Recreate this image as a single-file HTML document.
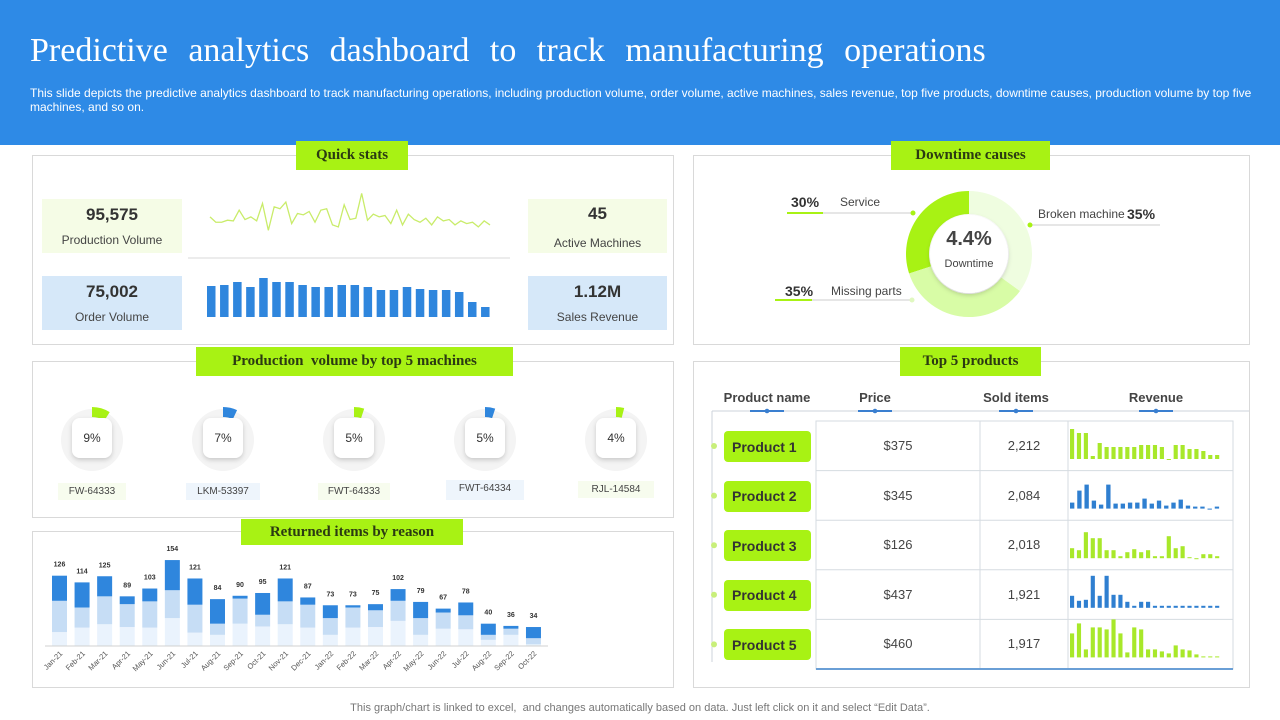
<!DOCTYPE html>
<html><head><meta charset="utf-8">
<style>
*{margin:0;padding:0;box-sizing:border-box}
body{width:1280px;height:720px;background:#fff;font-family:"Liberation Sans",sans-serif;position:relative;overflow:hidden;color:#333}
.abs{position:absolute}
.header{left:0;top:0;width:1280px;height:145px;background:#2e8ae6}
.title{left:30px;top:32px;font-family:"Liberation Serif",serif;font-size:34px;color:#fff;white-space:nowrap;word-spacing:12px}
.sub{left:30px;top:86px;font-size:12px;color:#fff;line-height:14px;white-space:nowrap}
.panel{border:1px solid #d9d9d9;background:#fff}
.tab{background:#a8f214;font-family:"Liberation Serif",serif;font-weight:bold;font-size:15px;color:#2b3a12;text-align:center;display:flex;align-items:center;justify-content:center}
.stat{text-align:center}
.stat b{display:block;font-size:17px;color:#333;margin-top:6px}
.stat span{display:block;font-size:12px;color:#444;margin-top:8px}
.mlabel{font-size:10px;color:#444;text-align:center;line-height:17px}
.btn{background:#a8f214;border-radius:4px;font-weight:bold;font-size:14px;color:#333;display:flex;align-items:center;padding-left:8px}
.hdr{font-size:13px;font-weight:bold;color:#444;text-align:center}
.cell{font-size:13px;color:#444;text-align:center}
</style></head><body>
<div class="abs header"></div>
<div class="abs title">Predictive analytics dashboard to track manufacturing operations</div>
<div class="abs sub">This slide depicts the predictive analytics dashboard to track manufacturing operations, including production volume, order volume, active machines, sales revenue, top five products, downtime causes, production volume by top five<br>machines, and so on.</div>

<div class="abs panel" style="left:32px;top:155px;width:642px;height:190px"></div>
<div class="abs panel" style="left:693px;top:155px;width:557px;height:190px"></div>
<div class="abs panel" style="left:32px;top:361px;width:642px;height:157px"></div>
<div class="abs panel" style="left:693px;top:361px;width:557px;height:327px"></div>
<div class="abs panel" style="left:32px;top:531px;width:642px;height:157px"></div>

<div class="abs tab" style="left:296px;top:141px;width:112px;height:29px">Quick stats</div>
<div class="abs tab" style="left:891px;top:141px;width:159px;height:29px">Downtime causes</div>
<div class="abs tab" style="left:196px;top:347px;width:317px;height:29px">Production &nbsp;volume by top 5 machines</div>
<div class="abs tab" style="left:900px;top:347px;width:141px;height:29px">Top 5 products</div>
<div class="abs tab" style="left:241px;top:519px;width:222px;height:26px">Returned items by reason</div>

<div class="abs stat" style="left:42px;top:199px;width:140px;height:54px;background:#f5fce6"><b>95,575</b><span>Production Volume</span></div>
<div class="abs stat" style="left:42px;top:276px;width:140px;height:54px;background:#d6e8f9"><b>75,002</b><span>Order Volume</span></div>
<div class="abs stat" style="left:528px;top:199px;width:139px;height:54px;background:#f5fce6"><b style="margin-top:5px">45</b><span style="margin-top:12px">Active Machines</span></div>
<div class="abs stat" style="left:528px;top:276px;width:139px;height:54px;background:#d6e8f9"><b>1.12M</b><span>Sales Revenue</span></div>

<svg class="abs" id="chart" style="left:0;top:0" width="1280" height="720">
<defs><filter id="sh" x="-50%" y="-50%" width="200%" height="200%"><feDropShadow dx="0" dy="2" stdDeviation="2.5" flood-color="#000" flood-opacity="0.18"/></filter></defs>
<line x1="188" y1="258" x2="510" y2="258" stroke="#d8d8d8"/>
<g id="g"></g>
</svg>

<div class="abs" style="left:791px;top:194px;font-size:14px;font-weight:bold">30%</div>
<div class="abs" style="left:840px;top:195px;font-size:12px;color:#444">Service</div>
<div class="abs" style="left:1038px;top:207px;font-size:12px;color:#444">Broken machine</div>
<div class="abs" style="left:1127px;top:206px;font-size:14px;font-weight:bold">35%</div>
<div class="abs" style="left:785px;top:283px;font-size:14px;font-weight:bold">35%</div>
<div class="abs" style="left:831px;top:284px;font-size:12px;color:#444">Missing parts</div>
<div class="abs" style="left:929px;top:228px;width:80px;text-align:center;font-size:20px;font-weight:bold;color:#444">4.4%</div>
<div class="abs" style="left:929px;top:258px;width:80px;text-align:center;font-size:11px;color:#444">Downtime</div>

<div class="abs mlabel" style="left:58px;top:483px;width:68px;background:#f7fcee">FW-64333</div>
<div class="abs mlabel" style="left:186px;top:483px;width:74px;background:#eef5fc">LKM-53397</div>
<div class="abs mlabel" style="left:318px;top:483px;width:72px;background:#f7fcee">FWT-64333</div>
<div class="abs mlabel" style="left:446px;top:480px;width:78px;height:20px;background:#eef5fc">FWT-64334</div>
<div class="abs mlabel" style="left:578px;top:481px;width:76px;background:#f7fcee">RJL-14584</div>

<div class="abs hdr" style="left:707px;top:390px;width:120px">Product name</div>
<div class="abs hdr" style="left:835px;top:390px;width:80px">Price</div>
<div class="abs hdr" style="left:966px;top:390px;width:100px">Sold items</div>
<div class="abs hdr" style="left:1106px;top:390px;width:100px">Revenue</div>

<div id="rows"></div>

<div class="abs" style="left:0;top:702px;width:1280px;text-align:center;font-size:11px;color:#777">This graph/chart is linked to excel, &nbsp;and changes automatically based on data. Just left click on it and select “Edit Data”.</div>

<script>
const lineValues=[30,22,22,25,24,40,26,30,24,50,10,45,42,52,20,35,33,38,22,40,42,18,15,48,26,28,65,25,34,30,32,20,40,18,34,26,22,28,18,30,24,26,18,24,20,22,15,24,18];
const orderBars=[31,32,35,30,39,35,35,32,30,30,32,32,30,27,27,30,28,27,27,25,15,10];
const downtimeLabels=['Service','Missing parts','Broken machine'];
const downtimeValues=[30,35,35];
const machineNames=['FW-64333','LKM-53397','FWT-64333','FWT-64334','RJL-14584'];
const machinePct=[9,7,5,5,4];
const months=['Jan-21','Feb-21','Mar-21','Apr-21','May-21','Jun-21','Jul-21','Aug-21','Sep-21','Oct-21','Nov-21','Dec-21','Jan-22','Feb-22','Mar-22','Apr-22','May-22','Jun-22','Jul-22','Aug-22','Sep-22','Oct-22'];
const retLight=[25,33,39,34,33,50,24,20,40,35,39,33,20,33,34,45,20,31,30,11,20,3];
const retMid=[56,36,50,41,47,50,50,20,45,21,41,41,30,36,30,36,30,29,25,9,11,11];
const retDark=[45,45,36,14,23,54,47,44,5,39,41,13,23,4,11,21,29,7,23,20,5,20];
const products=['Product 1','Product 2','Product 3','Product 4','Product 5'];
const prices=['$375','$345','$126','$437','$460'];
const soldItems=['2,212','2,084','2,018','1,921','1,917'];
const rev1=[30,26,26,3,16,12,12,12,12,12,14,14,14,12,0,14,14,10,10,8,4,4];
const rev2=[6,18,24,8,4,24,5,5,6,6,10,5,8,3,6,9,3,2,2,0,2];
const rev3=[10,8,26,20,20,8,8,2,6,9,6,8,2,2,22,10,12,1,0,4,4,2];
const rev4=[12,7,8,32,12,32,13,13,6,2,6,6,2,2,2,2,2,2,2,2,2,2];
const rev5=[24,34,8,30,30,28,38,24,5,30,28,8,8,6,4,12,8,7,3,1,1,1];
const revSeries=[rev1,rev2,rev3,rev4,rev5];

const NS='http://www.w3.org/2000/svg';
const G=document.getElementById('g');
function mk(tag,attrs,parent){const e=document.createElementNS(NS,tag);for(const k in attrs)e.setAttribute(k,attrs[k]);(parent||G).appendChild(e);return e;}
function arc(cx,cy,r0,r1,a0,a1){const p=(r,a)=>[cx+r*Math.sin(a*Math.PI/180),cy-r*Math.cos(a*Math.PI/180)];const lg=(a1-a0)>180?1:0;const A=p(r1,a0),B=p(r1,a1),C=p(r0,a1),D=p(r0,a0);return `M${A} A${r1},${r1} 0 ${lg} 1 ${B} L${C} A${r0},${r0} 0 ${lg} 0 ${D}Z`;}

const lx=v=>210+v*(280/(lineValues.length-1));
const ly=v=>237-v*(47/70);
const pl=mk('polyline',{points:lineValues.map((v,i)=>lx(i)+','+ly(v)).join(' '),fill:'none',stroke:'#c9ec6a','stroke-width':1.3});


const obX=i=>207+i*13.05, obY=v=>317-v;
orderBars.forEach((v,i)=>{const r=mk('rect',{x:obX(i),y:obY(v),width:8.5,height:317-obY(v),fill:'#2f86dd'});

});

const dcx=969,dcy=254;const tot=downtimeValues.reduce((a,b)=>a+b,0);
const dColors=['#a8f214','#d8fca6','#effde0'];
let start=360-downtimeValues[0]/tot*360;
let segs=[[start,360,0]];
let a=start;
for(let i=1;i<downtimeValues.length;i++){const s=a-downtimeValues[i]/tot*360;segs.push([s,a,i]);a=s;}
segs.forEach(([s,e,i])=>{const p=mk('path',{d:arc(dcx,dcy,40,63,s,e),fill:dColors[i]});

});
const dc=mk('circle',{cx:dcx,cy:dcy,r:39,fill:'#fff',filter:'url(#sh)'});


[[787,213,823,912,213],[775,300,812,912,300]].forEach(([x0,y,xm,x1])=>{mk('line',{x1:x0,y1:y,x2:x1,y2:y,stroke:'#ccc'});mk('line',{x1:x0,y1:y,x2:xm,y2:y,stroke:'#a8f214','stroke-width':2});});
mk('line',{x1:1030,y1:225,x2:1160,y2:225,stroke:'#ccc'});
mk('circle',{cx:913,cy:213,r:2.5,fill:'#a8f214'});mk('circle',{cx:1030,cy:225,r:2.5,fill:'#a8f214'});mk('circle',{cx:912,cy:300,r:2.5,fill:'#e0f8c0'});

const mcx=i=>92+i*131;
machinePct.forEach((v,i)=>{const cx=mcx(i),cy=440;
mk('circle',{cx,cy,r:31,fill:'#f4f4f4'});
const w=mk('path',{d:arc(cx,cy,23,33,0,v/100*360),fill:i%2?'#2f86dd':'#a8f214'});


mk('rect',{x:cx-20,y:cy-22,width:40,height:40,rx:8,fill:'#fff',filter:'url(#sh)'});
const t=mk('text',{x:cx,y:cy+2,'text-anchor':'middle','font-size':12,fill:'#333','font-family':'Liberation Sans'});t.textContent=v+'%';

});

const rx=i=>52+i*22.57, ry=v=>646-v*0.558;
months.forEach((m,i)=>{let base=0;[[retLight,'#eaf3fd'],[retMid,'#c6ddf5'],[retDark,'#2f86dd']].forEach(([arr,c])=>{const v=arr[i];
const r=mk('rect',{x:rx(i),y:ry(base+v),width:15,height:ry(base)-ry(base+v),fill:c});

base+=v;});
const t=mk('text',{x:rx(i)+7.5,y:ry(base)-9,'text-anchor':'middle','font-size':7,'font-weight':'bold',fill:'#333','font-family':'Liberation Sans'});t.textContent=base;


const l=mk('text',{x:rx(i)+11,y:654,'text-anchor':'end','font-size':7.5,fill:'#555','font-family':'Liberation Sans',transform:`rotate(-45 ${rx(i)+11} 654)`});l.textContent=m;

});
mk('line',{x1:45,y1:646,x2:548,y2:646,stroke:'#d0d0d0'});

mk('line',{x1:712,y1:411,x2:1249,y2:411,stroke:'#ccd3db'});
mk('line',{x1:712,y1:411,x2:712,y2:662,stroke:'#ccd3db'});
[767,875,1016,1156].forEach(x=>{mk('line',{x1:x-17,y1:411,x2:x+17,y2:411,stroke:'#3a7fd0','stroke-width':2});mk('circle',{cx:x,cy:411,r:2.3,fill:'#3a7fd0'});});
mk('rect',{x:816,y:421,width:417,height:248,fill:'none',stroke:'#d5dbe1'});
[980,1068].forEach(x=>mk('line',{x1:x,y1:421,x2:x,y2:669,stroke:'#d5dbe1'}));
for(let r=1;r<5;r++)mk('line',{x1:816,y1:421+r*49.6,x2:1233,y2:421+r*49.6,stroke:'#d5dbe1'});
mk('line',{x1:816,y1:669,x2:1233,y2:669,stroke:'#6a9fd6','stroke-width':2});
const rows=document.getElementById('rows');
products.forEach((p,i)=>{const cy=446+i*49.6;
const b=document.createElement('div');b.className='abs btn';b.style.cssText=`left:724px;top:${cy-15}px;width:87px;height:31px`;b.textContent=p;

rows.appendChild(b);
mk('circle',{cx:714,cy:cy,r:3,fill:'#c8ef7a'});
const c1=document.createElement('div');c1.className='abs cell';c1.style.cssText=`left:818px;top:${cy-8}px;width:160px`;c1.textContent=prices[i];

rows.appendChild(c1);
const c2=document.createElement('div');c2.className='abs cell';c2.style.cssText=`left:982px;top:${cy-8}px;width:84px`;c2.textContent=soldItems[i];

rows.appendChild(c2);
const ser=revSeries[i];const base=cy+13;const bw=152/ser.length;
ser.forEach((v,j)=>{const r=mk('rect',{x:1070+j*bw,y:base-v,width:bw*0.6,height:Math.max(v,1),fill:i%2?'#2f7fd0':'#a8e82a'});

});
});
</script>
</body></html>
